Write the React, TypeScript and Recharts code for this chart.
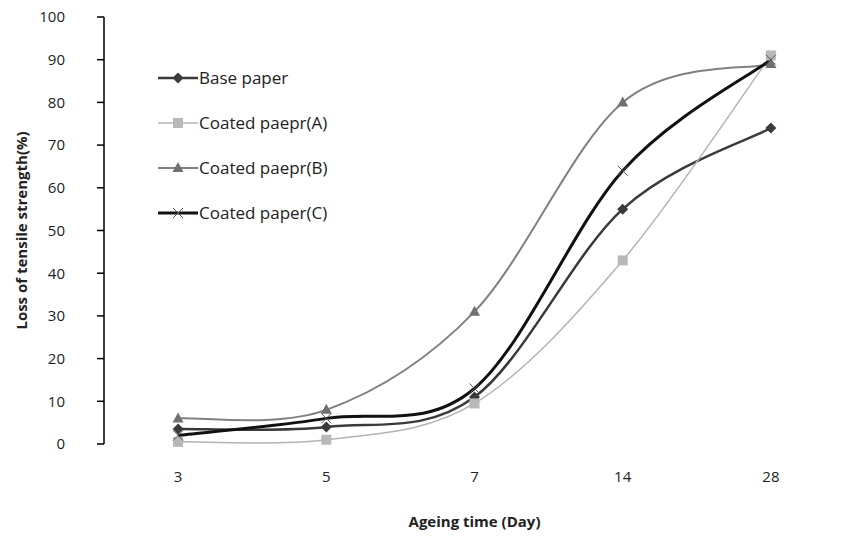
import { Legend, Line, LineChart, XAxis, YAxis } from 'recharts'

const FONT = '"Open Sans", "Noto Sans", sans-serif'
const INK = '#222'

// ageing days (categories) and loss of tensile strength (%) per sample
const days = ['3', '5', '7', '14', '28']
const basePaper = [3.5, 4, 11, 55, 74]
const coatedA = [0.5, 1, 9.5, 43, 91]
const coatedB = [6, 8, 31, 80, 89]
const coatedC = [2, 6, 13, 64, 90]

const yTicks = [0, 10, 20, 30, 40, 50, 60, 70, 80, 90, 100]
// band boundaries for the "between categories" tick marks
const bandEdges = [0, 1, 2, 3, 4, 5]

const data = days.map((day, i) => ({
  day,
  base: basePaper[i],
  a: coatedA[i],
  b: coatedB[i],
  c: coatedC[i],
}))

type Shape = 'diamond' | 'square' | 'triangle' | 'x'

const series: {
  key: string
  name: string
  stroke: string
  width: number
  shape: Shape
  fill: string
}[] = [
  { key: 'base', name: 'Base paper', stroke: '#3a3a3a', width: 2.5, shape: 'diamond', fill: '#3a3a3a' },
  { key: 'a', name: 'Coated paepr(A)', stroke: '#b4b4b4', width: 1.5, shape: 'square', fill: '#b8b8b8' },
  { key: 'b', name: 'Coated paepr(B)', stroke: '#808080', width: 2, shape: 'triangle', fill: '#707070' },
  { key: 'c', name: 'Coated paper(C)', stroke: '#111', width: 3, shape: 'x', fill: '#555' },
]

// Excel-style smoothed line (Catmull-Rom as cubic beziers)
function excelSmooth(context: any) {
  let pts: number[][] = []
  return {
    areaStart() {},
    areaEnd() {},
    lineStart() {
      pts = []
    },
    point(x: number, y: number) {
      pts.push([+x, +y])
    },
    lineEnd() {
      if (!pts.length) return
      context.moveTo(pts[0][0], pts[0][1])
      for (let i = 0; i < pts.length - 1; i++) {
        const p0 = pts[i - 1] || pts[i]
        const p1 = pts[i]
        const p2 = pts[i + 1]
        const p3 = pts[i + 2] || pts[i + 1]
        context.bezierCurveTo(
          p1[0] + (p2[0] - p0[0]) / 6,
          p1[1] + (p2[1] - p0[1]) / 6,
          p2[0] - (p3[0] - p1[0]) / 6,
          p2[1] - (p3[1] - p1[1]) / 6,
          p2[0],
          p2[1]
        )
      }
    },
  }
}

function Marker({ shape, cx, cy, fill }: { shape: Shape; cx: number; cy: number; fill: string }) {
  if (cx == null || cy == null) return null
  switch (shape) {
    case 'diamond':
      return <polygon points={`${cx},${cy - 5.5} ${cx + 5.5},${cy} ${cx},${cy + 5.5} ${cx - 5.5},${cy}`} fill={fill} />
    case 'square':
      return <rect x={cx - 5} y={cy - 5} width={10} height={10} fill={fill} />
    case 'triangle':
      return <polygon points={`${cx},${cy - 6} ${cx + 5.5},${cy + 4} ${cx - 5.5},${cy + 4}`} fill={fill} />
    default:
      return (
        <path
          d={`M${cx - 5},${cy - 5}L${cx + 5},${cy + 5}M${cx + 5},${cy - 5}L${cx - 5},${cy + 5}`}
          stroke={fill}
          strokeWidth={1}
        />
      )
  }
}

function LegendBox() {
  return (
    <div style={{ fontFamily: FONT, fontSize: 17, color: INK }}>
      {series.map((s) => (
        <div key={s.key} style={{ display: 'flex', alignItems: 'center', height: 45 }}>
          <svg width={40} height={14}>
            <line x1={0} y1={7} x2={40} y2={7} stroke={s.stroke} strokeWidth={s.width} />
            <Marker shape={s.shape} cx={20} cy={7} fill={s.fill} />
          </svg>
          <span style={{ marginLeft: 1 }}>{s.name}</span>
        </div>
      ))}
    </div>
  )
}

export default function App() {
  return (
    <div style={{ position: 'absolute', left: 0, top: 0, width: 841, height: 539, overflow: 'hidden', background: '#fff' }}>
      <LineChart width={845} height={539} data={data} margin={{ top: 17, right: 0, left: 0, bottom: 0 }}>
        <XAxis
          xAxisId="grid"
          type="number"
          domain={[0, 5]}
          ticks={bandEdges}
          tick={false}
          height={0}
          tickSize={7}
          stroke="#000"
          strokeWidth={1.5}
        />
        <XAxis
          xAxisId="cat"
          dataKey="day"
          scale="band"
          axisLine={false}
          tickLine={false}
          tickSize={0}
          tickMargin={27}
          height={95}
          tick={{ fill: INK, fontSize: 15, fontFamily: FONT }}
          label={{
            value: 'Ageing time (Day)',
            position: 'insideBottom',
            offset: 12,
            fill: INK,
            fontSize: 15,
            fontWeight: 700,
            fontFamily: FONT,
          }}
        />
        <YAxis
          domain={[0, 100]}
          ticks={yTicks}
          interval={0}
          width={104}
          tickSize={7}
          tickMargin={32}
          stroke="#000"
          strokeWidth={1.5}
          tick={{ fill: INK, fontSize: 15, fontFamily: FONT }}
          label={{
            value: 'Loss of tensile strength(%)',
            angle: -90,
            position: 'insideLeft',
            offset: 22,
            fill: INK,
            fontSize: 15,
            fontWeight: 700,
            fontFamily: FONT,
            style: { textAnchor: 'middle' },
          }}
        />
        <Legend
          layout="vertical"
          align="center"
          verticalAlign="middle"
          wrapperStyle={{ left: 158, top: 55, width: 240 }}
          content={() => <LegendBox />}
        />
        {series.map((s) => (
          <Line
            key={s.key}
            xAxisId="cat"
            dataKey={s.key}
            name={s.name}
            type={excelSmooth as any}
            stroke={s.stroke}
            strokeWidth={s.width}
            isAnimationActive={false}
            activeDot={false}
            dot={(p: any) => <Marker key={`${s.key}-${p.index}`} shape={s.shape} cx={p.cx} cy={p.cy} fill={s.fill} />}
          />
        ))}
      </LineChart>
    </div>
  )
}
